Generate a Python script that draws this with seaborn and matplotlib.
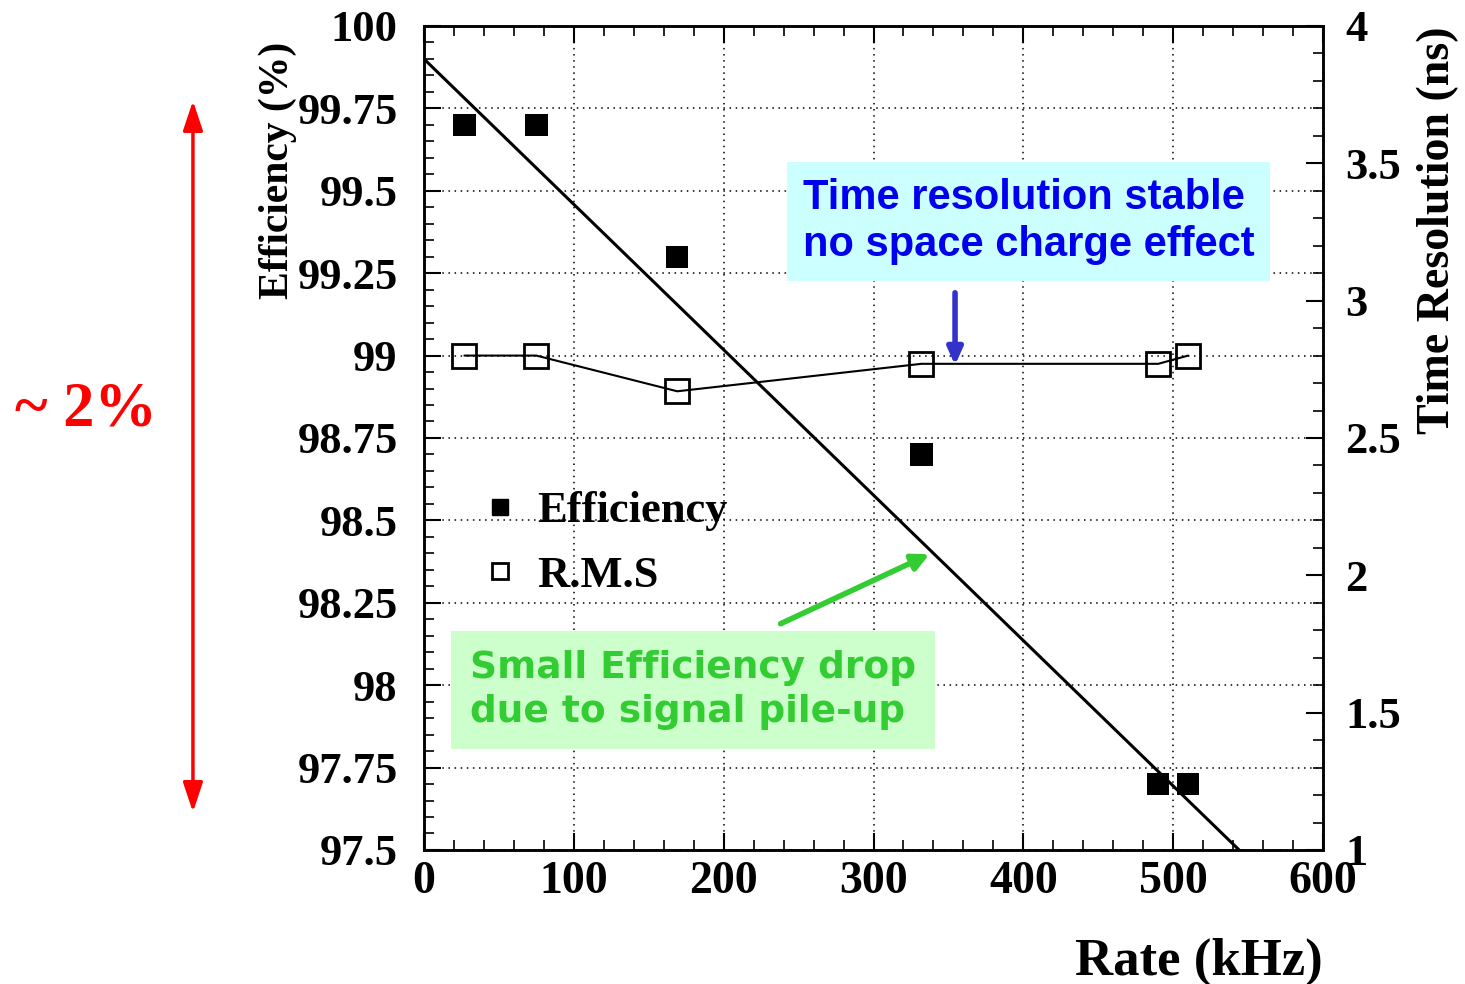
import numpy as np
import pandas as pd
import matplotlib
matplotlib.use("Agg")
import matplotlib.pyplot as plt
from matplotlib.ticker import MultipleLocator, FuncFormatter
from matplotlib.lines import Line2D
from matplotlib.patches import FancyArrowPatch
import seaborn as sns

# values
rate = [27, 75, 169, 332, 490, 510]                 # kHz
efficiency = [99.70, 99.70, 99.30, 98.70, 97.70, 97.70]   # %
rms = [2.80, 2.80, 2.67, 2.77, 2.77, 2.80]           # ns
fit_rate = [0, 544]
fit_eff = [99.90, 97.50]

df = pd.DataFrame({"rate": rate, "efficiency": efficiency, "rms": rms})
fit = pd.DataFrame({"rate": fit_rate, "efficiency": fit_eff})

sns.set_style("white")
plt.rcParams["font.family"] = ["Liberation Serif", "DejaVu Serif"]
plt.rcParams["font.weight"] = "bold"
for k in ("text.color", "axes.labelcolor", "xtick.color", "ytick.color"):
    plt.rcParams[k] = "black"

fig = plt.figure(figsize=(14.65, 9.84), dpi=100)
ax = fig.add_axes([0.2894, 0.1362, 0.6137, 0.8374])
ax2 = ax.twinx()

sns.lineplot(data=fit, x="rate", y="efficiency", ax=ax, color="black", lw=2.2, zorder=3)
sns.scatterplot(data=df, x="rate", y="efficiency", ax=ax, marker="s", s=260,
                color="black", edgecolor="none", zorder=4)
sns.lineplot(data=df, x="rate", y="rms", ax=ax2, color="black", lw=1.5,
             marker="s", markersize=17, markerfacecolor="none",
             markeredgecolor="black", markeredgewidth=2)

ax.set_xlim(0, 600)
ax.set_ylim(97.5, 100)
ax2.set_ylim(1, 4)

fmt = FuncFormatter(lambda v, p: f"{v:g}")
ax.xaxis.set_major_locator(MultipleLocator(100))
ax.xaxis.set_minor_locator(MultipleLocator(20))
ax.yaxis.set_major_locator(MultipleLocator(0.25))
ax.yaxis.set_minor_locator(MultipleLocator(0.05))
ax2.yaxis.set_major_locator(MultipleLocator(0.5))
ax2.yaxis.set_minor_locator(MultipleLocator(0.1))
ax.xaxis.set_major_formatter(fmt)
ax.yaxis.set_major_formatter(fmt)
ax2.yaxis.set_major_formatter(fmt)

ax.tick_params(axis="x", which="both", direction="in", top=True, bottom=True, labelsize=33, pad=8)
ax.tick_params(axis="y", which="both", direction="in", left=True, right=False, labelsize=32, pad=19)
ax2.tick_params(axis="y", which="both", direction="in", right=True, labelsize=32, pad=16)
for a in (ax, ax2):
    a.tick_params(which="major", length=12, width=1.5, color="black", labelcolor="black")
    a.tick_params(which="minor", length=7, width=1.2, color="black")
    for s in a.spines.values():
        s.set_linewidth(1.8)
        s.set_color("black")

ax.grid(True, which="major", linestyle=(0, (1, 3)), color="black", lw=1.1)
ax2.grid(False)

ax.set_xlabel("Rate (kHz)", fontsize=38, fontweight="bold", ha="right", va="center", color="black")
ax.xaxis.set_label_coords(1.0, -0.136)
ax.set_ylabel("Efficiency (%)", fontsize=30, fontweight="bold", va="center", color="black")
ax.yaxis.set_label_coords(-0.163, 0.825)
ax2.set_ylabel("Time Resolution (ns)", fontsize=33, fontweight="bold", va="center",
               rotation=90, color="black")
ax2.yaxis.set_label_coords(1.1275, 0.752)

handles = [
    Line2D([], [], marker="s", ls="none", color="black", markersize=11),
    Line2D([], [], marker="s", ls="none", markerfacecolor="none",
           markeredgecolor="black", markeredgewidth=2, markersize=11),
]
leg = ax.legend(handles, ["Efficiency", "R.M.S"], loc="center left",
                bbox_to_anchor=(0.035, 0.372), frameon=False, borderpad=0,
                handletextpad=0.35, labelspacing=0.55, handlelength=1.0,
                prop={"family": "Liberation Serif", "weight": "bold", "size": 32})
for t in leg.get_texts():
    t.set_color("black")

ax.text(0.4216, 0.7627, "Time resolution stable\nno space charge effect",
        transform=ax.transAxes, ha="left", va="center", fontsize=30,
        fontweight="bold", color="#0000ee", family="Liberation Sans",
        linespacing=1.25, zorder=6,
        bbox=dict(boxstyle="square,pad=0.38", fc="#ccffff", ec="none"))
ax.text(0.0512, 0.194, "Small Efficiency drop\ndue to signal pile-up",
        transform=ax.transAxes, ha="left", va="center", fontsize=27,
        fontweight="bold", color="#33cc33", family="DejaVu Sans",
        linespacing=1.3, zorder=6,
        bbox=dict(boxstyle="square,pad=0.5", fc="#ccffcc", ec="none"))

ax.annotate("", xy=(0.5907, 0.585), xytext=(0.5907, 0.6796), xycoords="axes fraction",
            arrowprops=dict(arrowstyle="-|>,head_width=0.45,head_length=1.0",
                            color="#3333cc", lw=4), zorder=7)
ax.annotate("", xy=(0.5651, 0.3604), xytext=(0.3938, 0.2731), xycoords="axes fraction",
            arrowprops=dict(arrowstyle="-|>,head_width=0.5,head_length=1.0",
                            color="#33cc33", lw=4), zorder=7)

fig.patches.append(FancyArrowPatch(
    (0.1317, 0.1718), (0.1317, 0.9004), transform=fig.transFigure,
    arrowstyle="<|-|>,head_width=0.3,head_length=0.9", mutation_scale=20,
    color="red", lw=2.5))
fig.text(0.0587, 0.583, "~ 2%", fontsize=45, fontweight="bold", color="red",
         ha="center", va="center", family="Liberation Serif")

fig.savefig("out.png", dpi=100, facecolor="white")
